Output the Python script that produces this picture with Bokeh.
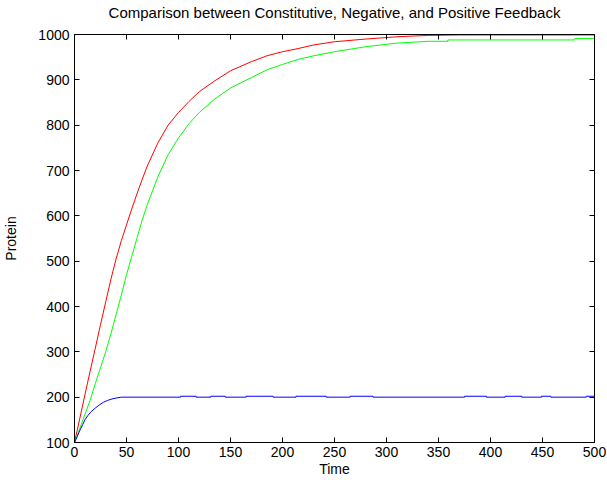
from bokeh.plotting import figure
from bokeh.models import LinearAxis, FixedTicker, Range1d, CustomLabelingPolicy
from bokeh.embed import file_html
from bokeh.resources import INLINE

# ---- data ----
red_t = [0, 5, 10, 15, 20, 25, 30, 35, 40, 45, 50, 55, 60, 65, 70, 80, 90, 100, 110, 120,
         135, 150, 170, 185, 200, 215, 230, 250, 280, 310, 340, 370, 500]
red_v = [100, 152, 205, 257, 308, 360, 410, 460, 505, 545, 580, 615, 648, 680, 710, 760, 800, 828,
         852, 874, 898, 920, 940, 953, 962, 969, 977, 984, 990, 995, 998, 999, 999]

green_t = [0, 5, 10, 15, 20, 25, 30, 35, 40, 45, 50, 55, 60, 65, 70, 80, 90, 100, 110, 120,
           135, 150, 170, 185, 200, 215, 230, 250, 280, 310, 340, 359, 359, 481, 481, 500]
green_v = [100, 130, 162, 193, 230, 265, 300, 340, 382, 425, 470, 510, 550, 590, 625, 685, 735, 772,
           803, 828, 858, 882, 905, 922, 934, 945, 953, 962, 973, 981, 985, 985, 988, 988, 991, 991]

blue_t = [0, 2, 5, 8, 10, 13, 16, 20, 24, 28, 32, 36, 40, 45,
          102, 102, 117, 117, 131, 131, 145, 145, 165, 165, 191, 191, 213, 213, 242, 242,
          265, 265, 287, 287, 375, 375, 396, 396, 414, 414, 430, 430, 449, 449, 458, 458,
          492, 492, 500]
blue_v = [100, 110, 126, 140, 150, 160, 168, 176, 183, 189, 193, 196, 198, 200,
          200, 202, 202, 200, 200, 202, 202, 200, 200, 202, 202, 200, 200, 202, 202, 200,
          200, 202, 202, 200, 200, 202, 202, 200, 200, 202, 202, 200, 200, 202, 202, 200,
          200, 202, 202]

x_ticks = [0, 50, 100, 150, 200, 250, 300, 350, 400, 450, 500]
y_ticks = [100, 200, 300, 400, 500, 600, 700, 800, 900, 1000]

FONT = "Liberation Sans"

p = figure(frame_width=520, frame_height=408, output_backend="svg", toolbar_location=None,
           x_range=Range1d(0, 500), y_range=Range1d(100, 1000),
           title="Comparison between Constitutive, Negative, and Positive Feedback",
           min_border_left=72, min_border_right=0, min_border_top=26, min_border_bottom=37)

p.title.align = "center"
p.title.text_font = FONT
p.title.text_font_size = "15px"
p.title.text_font_style = "normal"
p.title.text_color = "black"
p.title.standoff = 2

p.xgrid.visible = False
p.ygrid.visible = False
p.outline_line_color = "black"
p.outline_line_width = 1
p.background_fill_color = "white"
p.border_fill_color = "white"

p.line(red_t, red_v, line_color="#ff0000", line_width=1)
p.line(green_t, green_v, line_color="#00ff00", line_width=1)
p.line(blue_t, blue_v, line_color="#0000ff", line_width=1)

no_labels = CustomLabelingPolicy(code="""
const arr = Array.from(indices)
for (const i of arr) { indices.unset(i) }
return indices
""")


def style(ax, ticks, labels=True):
    ax.ticker = FixedTicker(ticks=ticks)
    ax.axis_line_color = "black"
    ax.major_tick_line_color = "black"
    ax.major_tick_in = 5
    ax.major_tick_out = 0
    ax.minor_tick_line_color = None
    ax.major_label_text_font = FONT
    ax.major_label_text_font_size = "14px"
    ax.major_label_text_color = "black"
    ax.axis_label_text_font = FONT
    ax.axis_label_text_font_size = "14px"
    ax.axis_label_text_font_style = "normal"
    ax.axis_label_text_color = "black"
    if not labels:
        ax.major_label_policy = no_labels
        ax.major_label_standoff = 0


style(p.xaxis[0], x_ticks)
style(p.yaxis[0], y_ticks)
p.xaxis[0].axis_label = "Time"
p.xaxis[0].major_label_standoff = 4
p.xaxis[0].axis_label_standoff = 1
p.yaxis[0].axis_label = "Protein"
p.yaxis[0].major_label_standoff = 5
p.yaxis[0].axis_label_standoff = 16

top = LinearAxis()
style(top, x_ticks, labels=False)
p.add_layout(top, "above")
right = LinearAxis()
style(right, y_ticks, labels=False)
p.add_layout(right, "right")

open("out.html", "w").write(file_html(p, INLINE))
